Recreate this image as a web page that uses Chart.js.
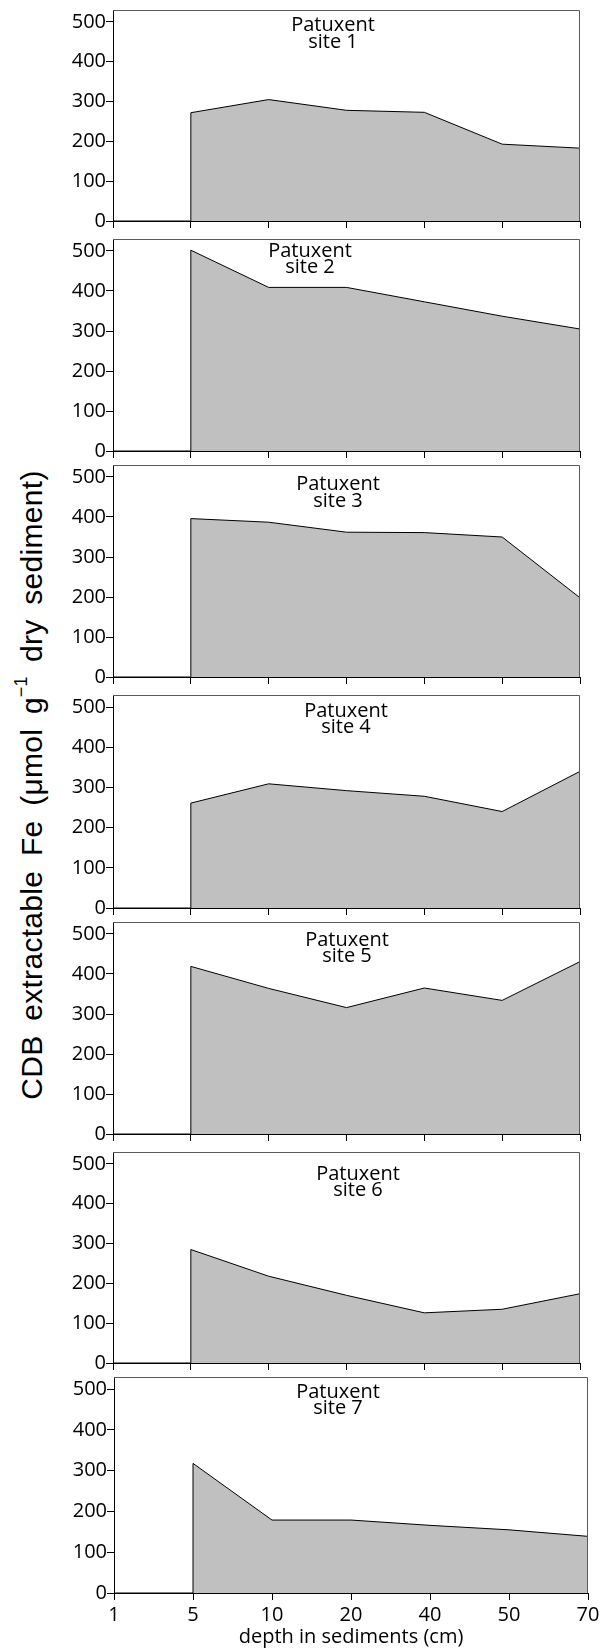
<!DOCTYPE html>
<html><head><meta charset="utf-8">
<script src="https://cdn.jsdelivr.net/npm/chart.js@4.4.0/dist/chart.umd.min.js"></script>
<style>
html,body{margin:0;padding:0;background:#fff;}
body{width:616px;height:1649px;position:relative;overflow:hidden;}
canvas{position:absolute;left:0;}
#ytitle{position:absolute;left:32px;top:785px;transform:translate(-50%,-50%) rotate(-90deg);font-family:"Liberation Sans",Arial,sans-serif;font-size:30px;white-space:nowrap;color:#000;word-spacing:6px;letter-spacing:0.3px;}
#ytitle sup{font-size:60%;vertical-align:0;position:relative;top:-0.85em;letter-spacing:0;}
</style></head><body>
<div id="ytitle">CDB extractable Fe (μmol g<sup>−1</sup> dry sediment)</div>
<script>
// ---- data ----
const depthLabels = ['1', '5', '10', '20', '40', '50', '70'];
const siteTitles = ['site 1', 'site 2', 'site 3', 'site 4', 'site 5', 'site 6', 'site 7'];
const riverName = 'Patuxent';
const xAxisTitle = 'depth in sediments (cm)';
// CDB extractable Fe at depths 5,10,20,40,50,70 cm (nothing sampled at 1 cm)
const site1 = [272, 305, 278, 273, 193, 183];
const site2 = [502, 409, 409, 373, 337, 305];
const site3 = [396, 387, 362, 361, 350, 198];
const site4 = [261, 309, 292, 278, 240, 340];
const site5 = [419, 364, 316, 365, 334, 431];
const site6 = [285, 218, 170, 126, 135, 174];
const site7 = [318, 179, 179, 166, 155, 139];
const yTickValues = [0, 100, 200, 300, 400, 500];

// ---- layout (pixels) ----
const sites = [site1, site2, site3, site4, site5, site6, site7];
const panels = [
  {T: 10,   B: 221,  L: 113, R: 580, cx: 333, b1: 21, b2: 38},
  {T: 239,  B: 451,  L: 113, R: 580, cx: 310, b1: 18, b2: 34},
  {T: 465,  B: 677,  L: 113, R: 580, cx: 338, b1: 25, b2: 42},
  {T: 695,  B: 908,  L: 113, R: 580, cx: 346, b1: 22, b2: 38},
  {T: 922,  B: 1134, L: 113, R: 580, cx: 347, b1: 24, b2: 40},
  {T: 1152, B: 1363, L: 113, R: 580, cx: 358, b1: 28, b2: 44},
  {T: 1377, B: 1593, L: 114, R: 588, cx: 338, b1: 21, b2: 37}
];
const FONT = '"Open Sans", "DejaVu Sans", sans-serif';
const PADTOP = 4;

const framePlugin = {
  id: 'frame',
  afterDraw(chart, args, opts) {
    const {ctx, chartArea: a} = chart;
    ctx.save();
    ctx.strokeStyle = '#5a5a5a';
    ctx.lineWidth = 1;
    ctx.beginPath();
    ctx.moveTo(a.left, a.top + 0.5);
    ctx.lineTo(a.right - 0.5, a.top + 0.5);
    ctx.lineTo(a.right - 0.5, a.bottom);
    ctx.stroke();
    ctx.fillStyle = '#000';
    ctx.font = '20px ' + FONT;
    ctx.textAlign = 'center';
    ctx.textBaseline = 'alphabetic';
    ctx.fillText(opts.line1, opts.cx, a.top + opts.b1);
    ctx.fillText(opts.line2, opts.cx, a.top + opts.b2);
    ctx.restore();
  }
};

panels.forEach((p, i) => {
  const last = i === panels.length - 1;
  const xh = last ? 1649 - p.B : 10;
  const cv = document.createElement('canvas');
  cv.width = 616;
  cv.height = (p.B - p.T) + PADTOP + xh;
  cv.style.top = (p.T - PADTOP) + 'px';
  document.body.appendChild(cv);

  const vals = sites[i];
  // flat at 0 from 1 cm to 5 cm, then vertical rise at 5 cm
  const data = [{x: 0, y: 0}, {x: 1, y: 0}].concat(vals.map((v, k) => ({x: k + 1, y: v})));

  new Chart(cv, {
    type: 'line',
    data: {
      datasets: [{
        data: data,
        borderColor: '#000',
        borderWidth: 1,
        backgroundColor: '#c0c0c0',
        fill: 'origin',
        pointRadius: 0,
        tension: 0
      }]
    },
    options: {
      responsive: false,
      animation: false,
      events: [],
      layout: {padding: {top: PADTOP, right: 616 - p.R, left: 0, bottom: 0}},
      plugins: {
        legend: {display: false},
        tooltip: {enabled: false},
        frame: {line1: riverName, line2: siteTitles[i], cx: p.cx, b1: p.b1, b2: p.b2}
      },
      scales: {
        x: {
          type: 'linear',
          min: 0, max: depthLabels.length - 1,
          z: 1,
          afterFit: s => { s.height = xh; s.paddingLeft = 0; s.paddingRight = 0; },
          afterBuildTicks: s => { s.ticks = depthLabels.map((d, k) => ({value: k})); },
          grid: {drawOnChartArea: false, drawTicks: true, tickLength: 7, color: '#000', lineWidth: 1},
          border: {display: true, color: '#000', width: 1},
          ticks: {
            display: last,
            autoSkip: false,
            maxRotation: 0,
            padding: 3,
            color: '#000',
            font: {family: FONT, size: 20},
            callback: v => depthLabels[v]
          },
          title: {
            display: last,
            text: xAxisTitle,
            color: '#000',
            font: {family: FONT, size: 20},
            padding: {top: 0, bottom: 0}
          }
        },
        y: {
          min: 0, max: 530,
          z: 1,
          afterFit: s => { s.width = p.L; s.paddingTop = 0; s.paddingBottom = 0; },
          afterBuildTicks: s => { s.ticks = yTickValues.map(v => ({value: v})); },
          grid: {drawOnChartArea: false, drawTicks: true, tickLength: 7, color: '#000', lineWidth: 1},
          border: {display: true, color: '#000', width: 1},
          ticks: {
            padding: 0,
            color: '#000',
            font: {family: FONT, size: 20},
            callback: v => String(v)
          }
        }
      }
    },
    plugins: [framePlugin]
  });
});
</script>
</body></html>
